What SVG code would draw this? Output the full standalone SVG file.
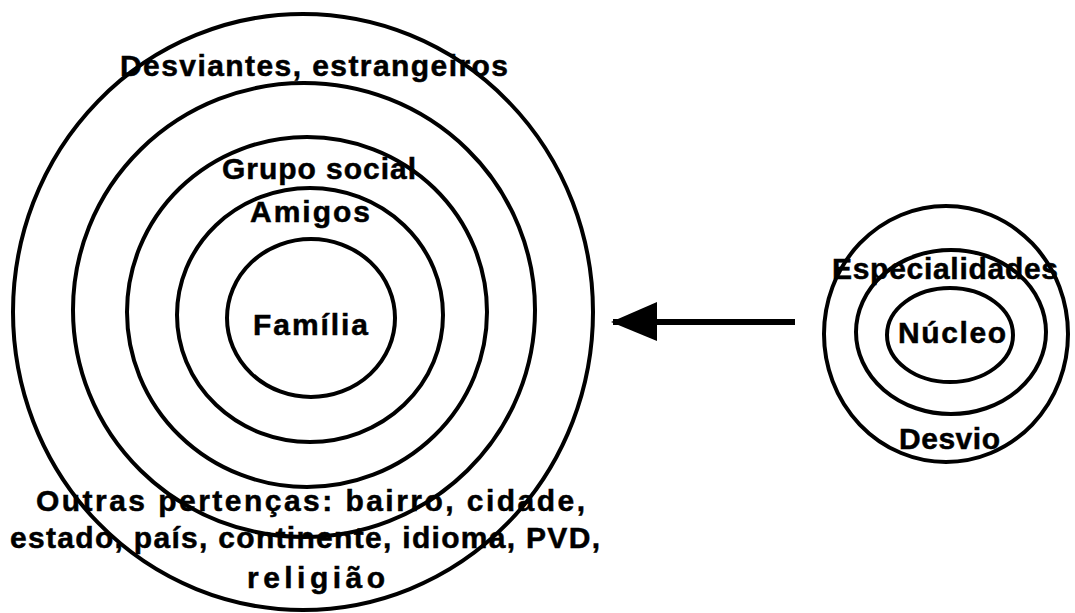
<svg xmlns="http://www.w3.org/2000/svg" width="1075" height="613" viewBox="0 0 1075 613">
<style>
.ring{fill:none;stroke:#000;stroke-width:4}
.lbl{font-family:"Liberation Sans",Arial,sans-serif;font-weight:bold;font-size:30px;fill:#000;stroke:#000;stroke-width:0.5}
.conn{stroke:#000;stroke-width:6;fill:none}
</style>
<defs>
<marker id="head" markerUnits="userSpaceOnUse" viewBox="0 -20 46 40" refX="44" refY="0" markerWidth="46" markerHeight="40" orient="auto">
<path d="M0,-19 L46,0 L0,20 Z" fill="#000"/>
</marker>
</defs>
<rect width="1075" height="613" fill="#fff"/>
<g id="desviantes">
<ellipse class="ring" cx="303" cy="312" rx="290" ry="298"/>
<text class="lbl" x="120" y="76" textLength="388" lengthAdjust="spacing">Desviantes,  estrangeiros</text>
</g>
<g id="outras-pertencas">
<ellipse class="ring" cx="304" cy="310" rx="231" ry="227"/>
<text class="lbl" x="36" y="511" textLength="549" lengthAdjust="spacing">Outras  pertenças:  bairro,  cidade,</text>
<text class="lbl" x="10" y="548" textLength="590" lengthAdjust="spacing">estado,  país,  continente,  idioma,  PVD,</text>
<text class="lbl" x="247" y="588" textLength="138" lengthAdjust="spacing">religião</text>
</g>
<g id="grupo-social">
<ellipse class="ring" cx="307" cy="312" rx="180" ry="175"/>
<text class="lbl" x="222" y="179" textLength="194" lengthAdjust="spacing">Grupo  social</text>
</g>
<g id="amigos">
<ellipse class="ring" cx="310" cy="315" rx="133" ry="127"/>
<text class="lbl" x="250" y="222" textLength="120" lengthAdjust="spacing">Amigos</text>
</g>
<g id="familia">
<ellipse class="ring" cx="311" cy="318" rx="84" ry="79"/>
<text class="lbl" x="253" y="335" textLength="115" lengthAdjust="spacing">Família</text>
</g>
<g id="desvio">
<ellipse class="ring" cx="946" cy="334" rx="122" ry="128"/>
<text class="lbl" x="899" y="449" textLength="101" lengthAdjust="spacing">Desvio</text>
</g>
<g id="especialidades">
<ellipse class="ring" cx="951" cy="332" rx="95" ry="82"/>
<text class="lbl" x="832" y="279" textLength="226" lengthAdjust="spacing">Especialidades</text>
</g>
<g id="nucleo">
<ellipse class="ring" cx="950" cy="335" rx="63" ry="47"/>
<text class="lbl" x="898" y="343" textLength="108" lengthAdjust="spacing">Núcleo</text>
</g>
<g id="connectors">
<line class="conn" x1="795" y1="322" x2="613" y2="322" marker-end="url(#head)"/>
</g>
</svg>
